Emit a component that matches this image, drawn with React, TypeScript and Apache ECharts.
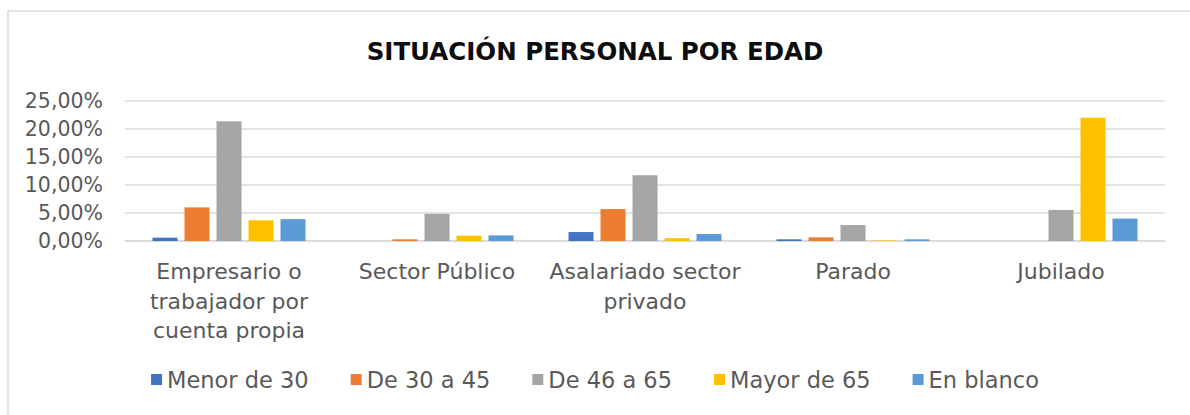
import React, { useEffect, useRef } from "react";
import * as echarts from "echarts";

const categories = [
  "Empresario o\ntrabajador por\ncuenta propia",
  "Sector Público",
  "Asalariado sector\nprivado",
  "Parado",
  "Jubilado",
];
const seriesNames = ["Menor de 30", "De 30 a 45", "De 46 a 65", "Mayor de 65", "En blanco"];
const menor30 = [0.6, 0, 1.6, 0.3, 0];
const de30a45 = [6.0, 0.3, 5.7, 0.65, 0];
const de46a65 = [21.4, 4.85, 11.75, 2.85, 5.55];
const mayor65 = [3.7, 0.95, 0.5, 0.1, 22.0];
const enBlanco = [3.9, 1.0, 1.25, 0.3, 4.0];
const colors = ["#4472C4", "#ED7D31", "#A5A5A5", "#FFC000", "#5B9BD5"];
const yTicks = { min: 0, max: 25, interval: 5 };

const FONT = "'DejaVu Sans', sans-serif";

export default function App() {
  const ref = useRef<HTMLDivElement>(null);
  useEffect(() => {
    document.body.style.margin = "0";
    const chart = echarts.init(ref.current!, null, { renderer: "svg" });
    const data = [menor30, de30a45, de46a65, mayor65, enBlanco];
    chart.setOption({
      animation: false,
      backgroundColor: "#ffffff",
      title: {
        text: "SITUACIÓN PERSONAL POR EDAD",
        left: "center",
        top: 34,
        textStyle: { fontFamily: FONT, fontSize: 24.5, fontWeight: "bold", color: "#0d0d0d" },
      },
      graphic: [
        {
          type: "rect",
          shape: { x: 8, y: 11, width: 1200, height: 420 },
          style: { fill: "none", stroke: "#d9d9d9", lineWidth: 1.5 },
          silent: true,
        },
      ],
      grid: { left: 125, right: 25, top: 101, bottom: 174, containLabel: false },
      legend: {
        bottom: 19,
        left: "center",
        itemWidth: 11,
        itemHeight: 11,
        itemGap: 42,
        itemTextGap: 7,
        icon: "rect",
        textStyle: { fontFamily: FONT, fontSize: 22.5, color: "#595959" },
        data: seriesNames,
      },
      xAxis: {
        type: "category",
        data: categories,
        axisLine: { lineStyle: { color: "#d9d9d9", width: 1.5 } },
        axisTick: { show: false },
        axisLabel: {
          fontFamily: FONT,
          fontSize: 22,
          color: "#595959",
          lineHeight: 29.5,
          margin: 16,
          interval: 0,
        },
      },
      yAxis: {
        type: "value",
        min: yTicks.min,
        max: yTicks.max,
        interval: yTicks.interval,
        axisLine: { show: false },
        axisTick: { show: false },
        splitLine: { lineStyle: { color: "#d9d9d9", width: 1.5 } },
        axisLabel: {
          fontFamily: FONT,
          fontSize: 20.5,
          color: "#595959",
          margin: 22,
          formatter: (v: number) => v.toFixed(2).replace(".", ",") + "%",
        },
      },
      series: seriesNames.map((name, i) => ({
        name,
        type: "bar",
        data: data[i],
        barWidth: 25,
        barGap: "28%",
        itemStyle: { color: colors[i] },
      })),
    });
    return () => chart.dispose();
  }, []);
  return <div ref={ref} style={{ width: 1190, height: 415 }} />;
}
